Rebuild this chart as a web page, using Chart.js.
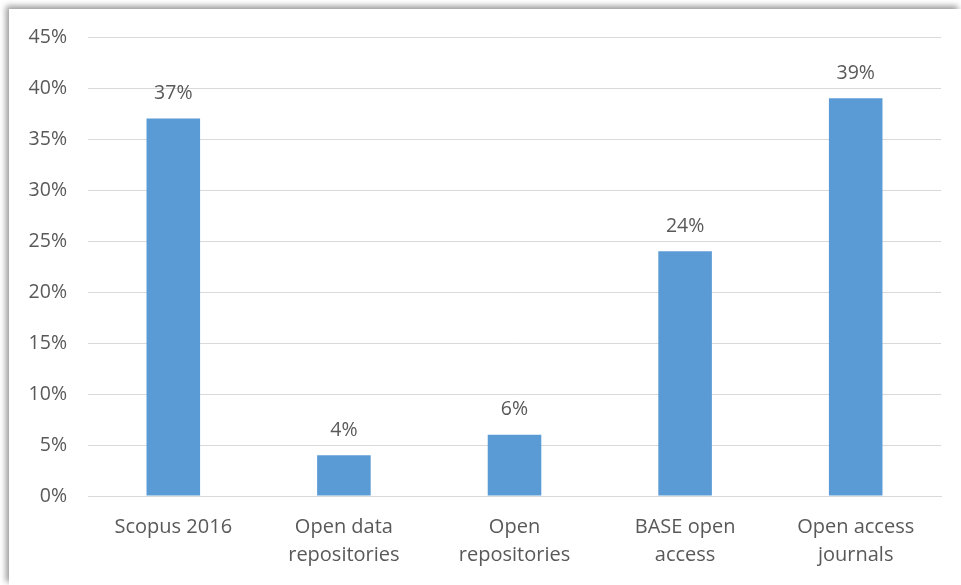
<!DOCTYPE html>
<html>
<head>
<meta charset="utf-8">
<script src="https://cdn.jsdelivr.net/npm/chart.js@4"></script>
<style>
	html, body { margin: 0; padding: 0; background: #ffffff; }
	#card {
		position: absolute; left: 9px; top: 9px; width: 952px; height: 576px;
		background: #ffffff;
		box-shadow: -3px -3px 6px rgba(0, 0, 0, 0.4);
	}
	#bar-canvas { position: absolute; left: 0; top: 0; }
</style>
</head>
<body>
<div id="card"></div>
<canvas id="bar-canvas" width="961" height="585"></canvas>
<script>
let categories = [
	["Scopus 2016"],
	["Open data", "repositories"],
	["Open", "repositories"],
	["BASE open", "access"],
	["Open access", "journals"]
];
let shares = [37, 4, 6, 24, 39];
let yTicks = [0, 5, 10, 15, 20, 25, 30, 35, 40, 45];

let textColor = "#595959";
let fontFamily = "'Open Sans', sans-serif";

// draws the percentage above each bar
let valueLabels = {
	id: "valueLabels",
	afterDatasetsDraw(chart){
		let ctx = chart.ctx;
		let meta = chart.getDatasetMeta(0);
		ctx.save();
		ctx.fillStyle = textColor;
		ctx.font = "19.5px " + fontFamily;
		ctx.textAlign = "center";
		ctx.textBaseline = "middle";
		meta.data.forEach(function(bar, i){
			ctx.fillText(shares[i] + "%", bar.x, bar.y - 25);
		});
		ctx.restore();
	}
};

let graph = new Chart("bar-canvas", {
	type: "bar",
	data: {
		labels: categories,
		datasets: [{
			data: shares,
			backgroundColor: "#5B9BD5",
			barPercentage: 1,
			categoryPercentage: 0.314
		}]
	},
	plugins: [valueLabels],
	options: {
		responsive: false,
		animation: false,
		layout: { padding: { top: 37, right: 20, left: 0, bottom: 0 } },
		plugins: {
			legend: { display: false },
			tooltip: { enabled: false }
		},
		scales: {
			x: {
				grid: { display: false, drawTicks: false },
				border: { color: "#d9d9d9", width: 1 },
				ticks: {
					color: textColor,
					font: { family: fontFamily, size: 20, lineHeight: 1.4 },
					padding: 17,
					maxRotation: 0,
					autoSkip: false
				},
				afterFit(scale){ scale.height = 89; }
			},
			y: {
				min: 0,
				max: 45,
				grid: { color: "#d9d9d9", drawTicks: false },
				border: { display: false },
				afterBuildTicks(scale){
					scale.ticks = yTicks.map(v => ({ value: v }));
				},
				ticks: {
					color: textColor,
					font: { family: fontFamily, size: 19.5 },
					padding: 21,
					callback: v => v + "%"
				},
				afterFit(scale){ scale.width = 88; }
			}
		}
	}
});
</script>
</body>
</html>
